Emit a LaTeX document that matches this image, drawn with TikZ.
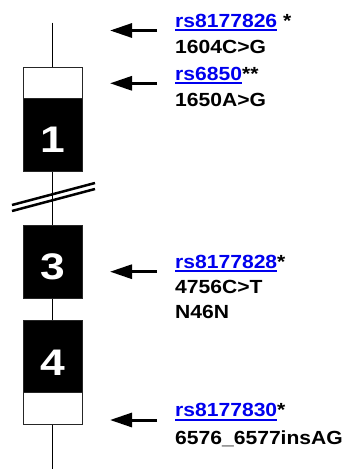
\documentclass[tikz,border=0pt]{standalone}
\usepackage{fontspec}
\setmainfont{Liberation Sans}[FakeStretch=1.11]
\newfontfamily\numfont{Liberation Sans}[FakeStretch=1.2]
\usetikzlibrary{arrows.meta}
\definecolor{linkblue}{HTML}{0000EE}
\newcommand\lnk[1]{{\color{linkblue}\setbox0\hbox{#1}\rlap{\rule[-4pt]{\wd0}{2pt}}\box0}}
\begin{document}
\begin{tikzpicture}[x=1pt,y=-1pt,
  lab/.style={anchor=base west, inner sep=0pt, font=\bfseries\fontsize{19}{22}\selectfont},
  exon/.style={draw=black!85, line width=1pt, minimum width=59.5pt, inner sep=0pt, anchor=north},
  num/.style={inner sep=0pt, text=white, font=\numfont\bfseries\fontsize{37}{37}\selectfont},
  gline/.style={line width=1.3pt},
  brk/.style={line width=2.5pt},
  arr/.style={line width=3pt, -{Triangle[length=22pt,width=14pt]}}]
\useasboundingbox (0,0) rectangle (347,469);
% gene line
\coordinate (top) at (52.75,22.7);
\coordinate (bot) at (52.75,469);
% exons
\node[exon, fill=white, minimum height=31.6pt] (e1u) at (52.75,66.7) {};
\node[exon, fill=black, minimum height=72.4pt] (e1c) at (52.75,98.3) {};
\node[exon, fill=black, minimum height=72.7pt] (e3) at (52.75,225) {};
\node[exon, fill=black, minimum height=72.2pt] (e4c) at (52.75,319.5) {};
\node[exon, fill=white, minimum height=32.3pt] (e4u) at (52.75,391.7) {};
\draw[gline] (top) -- (e1u.north);
\draw[gline] (e1c.south) -- (e3.north);
\draw[gline] (e3.south) -- (e4c.north);
\draw[gline] (e4u.south) -- (bot);
\node[num] (n1) at (52.75,140) {1};
\node[num] (n3) at (52.75,266.5) {3};
\node[num] (n4) at (52.75,363) {4};
% break marks
\draw[brk] (12,205) -- (95,183);
\draw[brk] (12,211) -- (95,189);
% arrows
\coordinate (a1s) at (157,30.5);  \coordinate (a1e) at (110,30.5);
\coordinate (a2s) at (157,83.3);  \coordinate (a2e) at (110,83.3);
\coordinate (a3s) at (157,271.7); \coordinate (a3e) at (110,271.7);
\coordinate (a4s) at (157,420);   \coordinate (a4e) at (110,420);
\draw[arr] (a1s) -- (a1e);
\draw[arr] (a2s) -- (a2e);
\draw[arr] (a3s) -- (a3e);
\draw[arr] (a4s) -- (a4e);
% labels
\node[lab] (l1a) at (175,27.3) {\lnk{rs8177826} *};
\node[lab] (l1b) at (175,53) {1604C>G};
\node[lab] (l2a) at (175,80) {\lnk{rs6850}**};
\node[lab] (l2b) at (175,106) {1650A>G};
\node[lab] (l3a) at (175,268) {\lnk{rs8177828}*};
\node[lab] (l3b) at (175,293.3) {4756C>T};
\node[lab] (l3c) at (175,318) {N46N};
\node[lab] (l4a) at (175,416.7) {\lnk{rs8177830}*};
\node[lab] (l4b) at (175,444) {6576\_6577insAG};
\end{tikzpicture}
\end{document}
